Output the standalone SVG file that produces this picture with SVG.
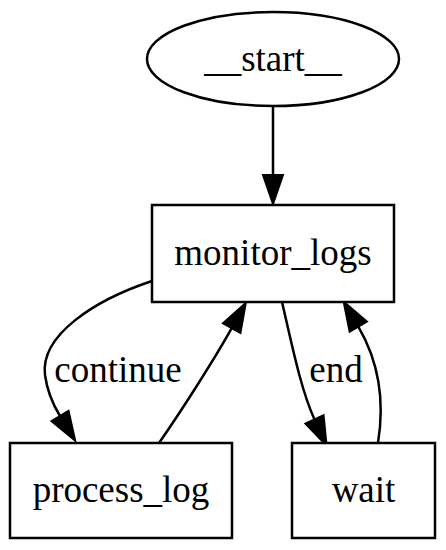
<svg xmlns="http://www.w3.org/2000/svg" width="446" height="550" viewBox="0 0 446 550">
<style>
.n{fill:#fff;stroke:#000;stroke-width:2.5}
.e{fill:none;stroke:#000;stroke-width:2.5}
text{font-family:"Liberation Serif","Times New Roman",serif;font-size:37px;fill:#000;text-anchor:middle}
</style>
<defs>
<marker id="ah" markerUnits="userSpaceOnUse" markerWidth="34" markerHeight="25" viewBox="-2 -2 34 25" refX="0" refY="10.5" orient="auto">
<path d="M0,0.5 L29,10.5 L0,20.5 z" fill="#000" stroke="#000" stroke-width="2"/>
</marker>
</defs>
<rect width="446" height="550" fill="#fff"/>
<g id="edges">
<path class="e" d="M273,106 L273,175" marker-end="url(#ah)"/>
<path class="e" d="M152,281 C95,300 40,335 45,375 C47,390 52,403 60,416" marker-end="url(#ah)"/>
<text x="118" y="382">continue</text>
<path class="e" d="M159,443 C180,413 214,360 231.7,328.2" marker-end="url(#ah)"/>
<path class="e" d="M282,302 C292,345 301,390 314.5,419.4" marker-end="url(#ah)"/>
<text x="336" y="382">end</text>
<path class="e" d="M378,443 C385,400 379,362 358.3,326.7" marker-end="url(#ah)"/>
</g>
<g id="start">
<ellipse class="n" cx="273" cy="59" rx="126" ry="47"/>
<text x="273" y="71">__start__</text>
</g>
<g id="monitor_logs">
<rect class="n" x="152" y="205" width="242" height="97"/>
<text x="273" y="265">monitor_logs</text>
</g>
<g id="process_log">
<rect class="n" x="10" y="443" width="222" height="95"/>
<text x="121" y="502">process_log</text>
</g>
<g id="wait">
<rect class="n" x="292" y="443" width="143" height="95"/>
<text x="363.5" y="502">wait</text>
</g>
</svg>
